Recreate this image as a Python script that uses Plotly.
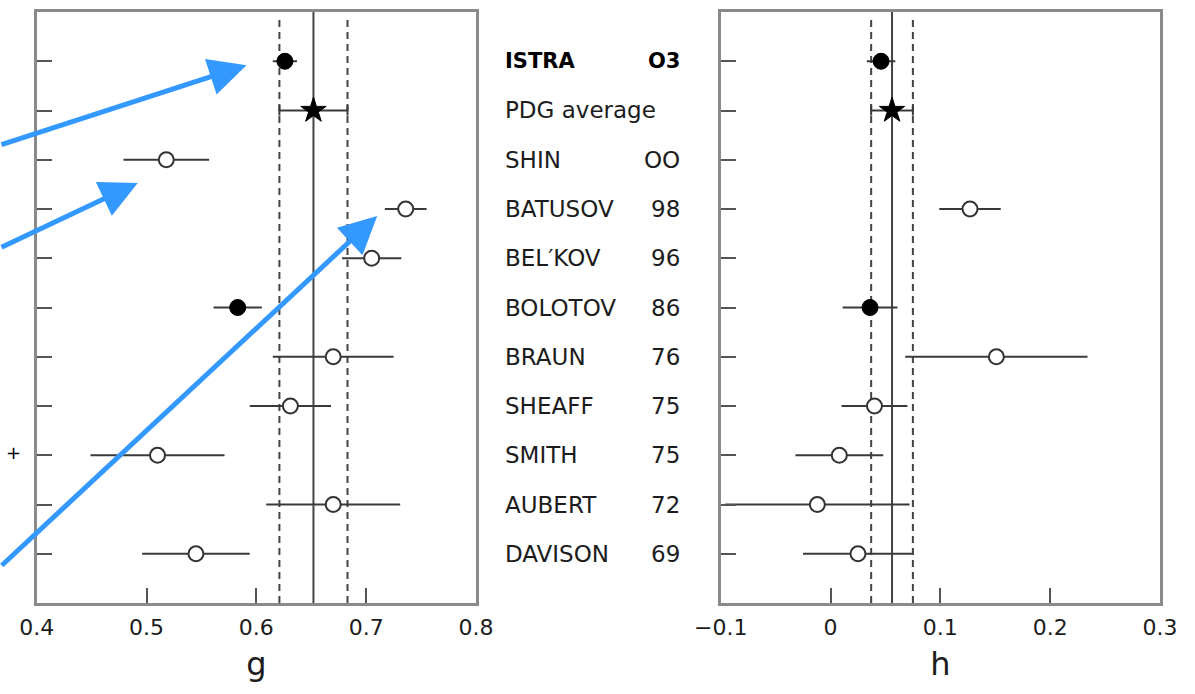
import plotly.graph_objects as go

# ---------------- data ----------------
experiments = ["ISTRA", "PDG average", "SHIN", "BATUSOV", "BEL\u2032KOV", "BOLOTOV",
               "BRAUN", "SHEAFF", "SMITH", "AUBERT", "DAVISON"]
years = ["O3", "", "OO", "98", "96", "86", "76", "75", "75", "72", "69"]
marker_kind = ["filled", "star", "open", "open", "open", "filled",
               "open", "open", "open", "open", "open"]

g_value = [0.626, 0.652, 0.518, 0.736, 0.705, 0.583, 0.670, 0.631, 0.510, 0.670, 0.545]
g_error = [0.011, 0.031, 0.039, 0.019, 0.027, 0.022, 0.055, 0.037, 0.061, 0.061, 0.049]

h_value = [0.046, 0.056, None, 0.127, None, 0.036, 0.151, 0.040, 0.008, -0.012, 0.025]
h_error = [0.013, 0.019, None, 0.028, None, 0.025, 0.083, 0.030, 0.040, 0.084, 0.050]

g_average, g_average_err = 0.652, 0.031
h_average, h_average_err = 0.056, 0.019

g_ticks = [0.4, 0.5, 0.6, 0.7, 0.8]
g_ticktext = ["0.4", "0.5", "0.6", "0.7", "0.8"]
h_ticks = [-0.1, 0.0, 0.1, 0.2, 0.3]
h_ticktext = ["\u22120.1", "0", "0.1", "0.2", "0.3"]

rows = list(range(1, len(experiments) + 1))

# ---------------- figure ----------------
W, H = 1195, 694
fig = go.Figure()

INK = "#1c1c1c"
FRAME = "#8a8a8a"
FONT = "DejaVu Sans, Liberation Sans, Arial, sans-serif"

style = {
    "open": dict(symbol="circle", size=15, color="white", line=dict(color="#333", width=2)),
    "filled": dict(symbol="circle", size=16, color="black", line=dict(color="black", width=1)),
    "star": dict(symbol="star", size=19, color="black", line=dict(color="black", width=1)),
}


def add_panel(values, errors, xa, ya):
    for kind in ["open", "filled", "star"]:
        xs, es, ys = [], [], []
        for v, e, r, k in zip(values, errors, rows, marker_kind):
            if k == kind and v is not None:
                xs.append(v)
                es.append(e)
                ys.append(r)
        if not xs:
            continue
        fig.add_trace(go.Scatter(
            x=xs, y=ys, mode="markers", xaxis=xa, yaxis=ya,
            marker=style[kind], showlegend=False, hoverinfo="x+y",
            error_x=dict(type="data", array=es, visible=True, color="#3a3a3a",
                         thickness=2, width=5 if kind == "star" else 0),
        ))


add_panel(g_value, g_error, "x", "y")
add_panel(h_value, h_error, "x2", "y2")

# average lines (solid) and +/- 1 sigma bands (dashed)
for xref, yref, avg, err in [("x", "y domain", g_average, g_average_err),
                             ("x2", "y2 domain", h_average, h_average_err)]:
    fig.add_shape(type="line", xref=xref, yref=yref, x0=avg, x1=avg, y0=0, y1=1,
                  line=dict(color="#444", width=2), layer="below")
    for xv in (avg - err, avg + err):
        fig.add_shape(type="line", xref=xref, yref=yref, x0=xv, x1=xv, y0=0, y1=0.99,
                      line=dict(color="#444", width=2, dash="7px,5px"), layer="below")

# experiment labels in the middle
for exp, yr, r in zip(experiments, years, rows):
    bold = exp == "ISTRA"
    fnt = dict(family=FONT, size=21 if bold else 23,
               color="black" if bold else INK,
               weight="bold" if bold else "normal")
    fig.add_annotation(xref="paper", yref="y", x=503 / W, y=r, text=exp,
                       showarrow=False, xanchor="left", yanchor="middle", font=fnt)
    if yr:
        fig.add_annotation(xref="paper", yref="y", x=682 / W, y=r, text=yr,
                           showarrow=False, xanchor="right", yanchor="middle", font=fnt)

# blue arrows
ARROW = "#3399ff"
arrows = [  # tip (g, row) and tail offset in pixels
    (0.591, 1.08, -247, 80),
    (0.492, 3.47, -138, 65),
    (0.710, 4.14, -377, 351),
]
for gx, ry, ax, ay in arrows:
    fig.add_annotation(xref="x", yref="y", x=gx, y=ry, ax=ax, ay=ay,
                       showarrow=True, arrowhead=2, arrowsize=1.5, arrowwidth=5,
                       arrowcolor=ARROW, text="", standoff=0)

fig.add_annotation(xref="paper", yref="paper", x=4 / W, y=1 - 452 / H, text="+",
                   showarrow=False, font=dict(family=FONT, size=18, color="black"))

x_dom_left = [36.7 / W, 476 / W]
x_dom_right = [720.7 / W, 1160 / W]
y_dom = [1 - 603 / H, 1 - 12 / H]

axis_common = dict(showline=True, mirror=True, linewidth=3, linecolor=FRAME,
                   showgrid=False, zeroline=False, ticks="inside", ticklen=15,
                   tickwidth=2, tickcolor="#555", automargin=False)

tickfont = dict(family=FONT, size=22, color=INK)
titlefont = dict(family=FONT, size=32, color=INK)

fig.update_layout(
    width=W, height=H, margin=dict(l=0, r=0, t=0, b=0, autoexpand=False),
    paper_bgcolor="white", plot_bgcolor="white",
    xaxis=dict(domain=x_dom_left, range=[0.4, 0.8], tickvals=g_ticks, ticktext=g_ticktext,
               tickfont=tickfont, ticklabelstandoff=3,
               title=dict(text="g", font=titlefont, standoff=14),
               anchor="y", **axis_common),
    yaxis=dict(domain=y_dom, range=[12, 0], tickvals=rows, showticklabels=False,
               anchor="x", **axis_common),
    xaxis2=dict(domain=x_dom_right, range=[-0.1, 0.3], tickvals=h_ticks, ticktext=h_ticktext,
                tickfont=tickfont, ticklabelstandoff=3,
                title=dict(text="h", font=titlefont, standoff=14),
                anchor="y2", **axis_common),
    yaxis2=dict(domain=y_dom, range=[12, 0], tickvals=rows, showticklabels=False,
                anchor="x2", **axis_common),
)

fig.write_html("out.html", config={"displayModeBar": False},
               post_script="document.body.style.margin='0';document.body.style.overflow='hidden';")
